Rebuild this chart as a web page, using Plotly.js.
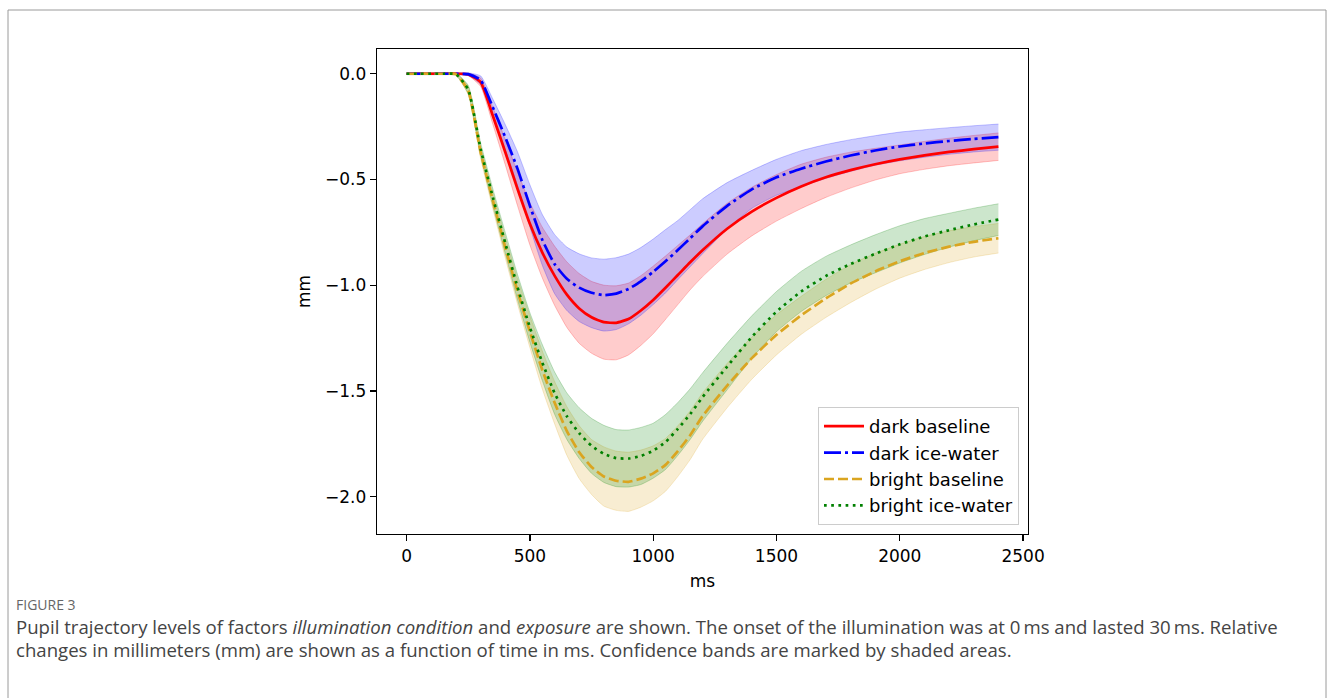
<!DOCTYPE html>
<html>
<head>
<meta charset="utf-8">
<script src="https://cdn.plot.ly/plotly-3.0.1.min.js"></script>
<style>
  html, body { margin: 0; padding: 0; background: #ffffff; }
  #chart { width: 1335px; height: 698px; }
</style>
</head>
<body>
<div id="chart"></div>
<script>
// ---- data ----
const timeMs = [0,50,100,150,200,250,300,350,400,450,500,550,600,650,700,750,800,850,900,950,1000,1050,1100,1150,1200,1300,1400,1500,1600,1700,1800,1900,2000,2100,2200,2300,2400];

const darkBaseline = [0,0,0,0,0,-0.003,-0.04,-0.20,-0.37,-0.545,-0.71,-0.845,-0.955,-1.045,-1.11,-1.152,-1.175,-1.178,-1.16,-1.12,-1.07,-1.012,-0.952,-0.892,-0.835,-0.733,-0.652,-0.587,-0.533,-0.49,-0.456,-0.428,-0.405,-0.386,-0.37,-0.357,-0.345];
const darkIceWater = [0,0,0,0,0,-0.002,-0.03,-0.16,-0.30,-0.45,-0.625,-0.785,-0.9,-0.97,-1.012,-1.036,-1.047,-1.04,-1.018,-0.982,-0.937,-0.887,-0.834,-0.778,-0.722,-0.625,-0.547,-0.49,-0.449,-0.415,-0.387,-0.363,-0.344,-0.33,-0.318,-0.308,-0.30];
const brightBaseline = [0,0,0,0,-0.002,-0.08,-0.37,-0.60,-0.82,-1.03,-1.22,-1.40,-1.555,-1.69,-1.79,-1.86,-1.905,-1.925,-1.93,-1.915,-1.89,-1.85,-1.785,-1.71,-1.62,-1.475,-1.345,-1.235,-1.143,-1.063,-0.993,-0.935,-0.887,-0.848,-0.818,-0.795,-0.778];
const brightIceWater = [0,0,0,0,-0.002,-0.075,-0.355,-0.585,-0.80,-1.01,-1.20,-1.365,-1.51,-1.62,-1.70,-1.76,-1.798,-1.818,-1.82,-1.808,-1.783,-1.742,-1.68,-1.61,-1.53,-1.385,-1.245,-1.125,-1.03,-0.957,-0.90,-0.852,-0.807,-0.77,-0.74,-0.713,-0.69];

// confidence band half widths (mm)
const darkBaselineCI = [0.004,0.004,0.004,0.004,0.004,0.006,0.02,0.04,0.06,0.08,0.10,0.12,0.14,0.155,0.165,0.17,0.175,0.175,0.17,0.165,0.16,0.15,0.14,0.13,0.125,0.12,0.115,0.11,0.105,0.095,0.085,0.075,0.068,0.066,0.065,0.065,0.065];
const darkIceWaterCI = [0.004,0.004,0.004,0.004,0.004,0.006,0.02,0.04,0.06,0.08,0.10,0.12,0.14,0.15,0.16,0.165,0.17,0.17,0.165,0.16,0.155,0.15,0.14,0.135,0.13,0.11,0.09,0.085,0.085,0.08,0.075,0.07,0.068,0.065,0.063,0.062,0.062];
const brightBaselineCI = [0.004,0.004,0.004,0.004,0.005,0.02,0.03,0.04,0.05,0.06,0.075,0.09,0.10,0.115,0.125,0.13,0.14,0.14,0.14,0.135,0.13,0.125,0.12,0.115,0.11,0.105,0.10,0.095,0.09,0.09,0.09,0.085,0.08,0.078,0.075,0.072,0.07];
const brightIceWaterCI = [0.004,0.004,0.004,0.004,0.005,0.02,0.03,0.04,0.05,0.06,0.07,0.085,0.10,0.11,0.12,0.13,0.135,0.135,0.135,0.135,0.13,0.13,0.125,0.12,0.115,0.11,0.10,0.095,0.095,0.093,0.09,0.09,0.088,0.085,0.08,0.077,0.075];

const seriesNames = ["dark baseline", "dark ice-water", "bright baseline", "bright ice-water"];
const xTickVals = [0, 500, 1000, 1500, 2000, 2500];
const xTickText = ["0", "500", "1000", "1500", "2000", "2500"];
const yTickVals = [0, -0.5, -1.0, -1.5, -2.0];
const yTickText = ["0.0", "\u22120.5", "\u22121.0", "\u22121.5", "\u22122.0"];
const xLabel = "ms";
const yLabel = "mm";
const figureLabel = "FIGURE 3";
const captionLine1 = "Pupil trajectory levels of factors <i>illumination condition</i> and <i>exposure</i> are shown. The onset of the illumination was at 0\u2009ms and lasted 30\u2009ms. Relative";
const captionLine2 = "changes in millimeters (mm) are shown as a function of time in ms. Confidence bands are marked by shaded areas.";

// ---- styles ----
const means = [darkBaseline, darkIceWater, brightBaseline, brightIceWater];
const cis = [darkBaselineCI, darkIceWaterCI, brightBaselineCI, brightIceWaterCI];
const rgb = [[255,0,0],[0,0,255],[218,165,32],[0,128,0]];
const dashes = ["solid", "17px,4px,3px,4px", "10px,4px", "2.7px,4.5px"];

const W = 1335, H = 698;
const L = 377, R = 1028, T = 49, B = 534;
const px2x = p => (p - L) / (R - L);
const px2y = p => (B - p) / (B - T);

const traces = [];
for (let i = 0; i < 4; i++) {
  const lo = means[i].map((v, k) => v - cis[i][k]);
  const hi = means[i].map((v, k) => v + cis[i][k]);
  const c = rgb[i].join(",");
  traces.push({
    x: timeMs, y: lo, type: "scatter", mode: "lines",
    line: {color: "rgba(" + c + ",0.22)", width: 1, shape: "spline", smoothing: 0.5},
    hoverinfo: "skip", showlegend: false
  });
  traces.push({
    x: timeMs, y: hi, type: "scatter", mode: "lines", fill: "tonexty",
    fillcolor: "rgba(" + c + ",0.2)",
    line: {color: "rgba(" + c + ",0.22)", width: 1, shape: "spline", smoothing: 0.5},
    hoverinfo: "skip", showlegend: false
  });
}
for (let i = 0; i < 4; i++) {
  traces.push({
    x: timeMs, y: means[i], type: "scatter", mode: "lines", name: seriesNames[i],
    line: {color: "rgb(" + rgb[i].join(",") + ")", width: 2.7, dash: dashes[i], shape: "spline", smoothing: 0.5}
  });
}

const axisFont = {family: "DejaVu Sans, sans-serif", size: 17, color: "#000000"};
const captionFont = {family: "Open Sans, sans-serif", size: 18.6, color: "#444444"};

const layout = {
  width: W, height: H,
  margin: {l: L, r: W - R, t: T, b: H - B, pad: 0},
  paper_bgcolor: "#ffffff", plot_bgcolor: "#ffffff",
  font: axisFont,
  showlegend: true,
  xaxis: {
    range: [-120, 2520], tickmode: "array", tickvals: xTickVals, ticktext: xTickText,
    showgrid: false, zeroline: false, showline: true, mirror: true, linecolor: "#000000", linewidth: 1.3,
    ticks: "outside", ticklen: 6, tickwidth: 1.3, tickcolor: "#000000",
    tickfont: axisFont,
    title: {text: xLabel, font: axisFont, standoff: 10}, automargin: true
  },
  yaxis: {
    range: [-2.177, 0.117], tickmode: "array", tickvals: yTickVals, ticktext: yTickText,
    showgrid: false, zeroline: false, showline: true, mirror: true, linecolor: "#000000", linewidth: 1.3,
    ticks: "outside", ticklen: 6, tickwidth: 1.3, tickcolor: "#000000",
    tickfont: axisFont,
    title: {text: yLabel, font: axisFont, standoff: 10}, automargin: true
  },
  legend: {
    x: px2x(1019), y: px2y(525), xanchor: "right", yanchor: "bottom",
    bgcolor: "rgba(255,255,255,0.85)", bordercolor: "#cccccc", borderwidth: 1,
    font: {family: "DejaVu Sans, sans-serif", size: 18, color: "#000000"},
    itemwidth: 40, tracegroupgap: 0, traceorder: "normal"
  },
  shapes: [{
    type: "rect", xref: "paper", yref: "paper",
    x0: px2x(8), x1: px2x(1326), y0: px2y(720), y1: px2y(10),
    line: {color: "#9a9a9a", width: 1}, fillcolor: "rgba(0,0,0,0)", layer: "below"
  }],
  annotations: [
    {xref: "paper", yref: "paper", x: px2x(14), y: px2y(604), xanchor: "left", yanchor: "middle",
     text: figureLabel, showarrow: false, font: {family: "Open Sans, sans-serif", size: 14, color: "#666666"}},
    {xref: "paper", yref: "paper", x: px2x(14), y: px2y(626), xanchor: "left", yanchor: "middle",
     text: captionLine1, showarrow: false, font: captionFont},
    {xref: "paper", yref: "paper", x: px2x(14), y: px2y(649), xanchor: "left", yanchor: "middle",
     text: captionLine2, showarrow: false, font: captionFont}
  ]
};

Plotly.newPlot("chart", traces, layout, {staticPlot: true, displayModeBar: false});
</script>
</body>
</html>
